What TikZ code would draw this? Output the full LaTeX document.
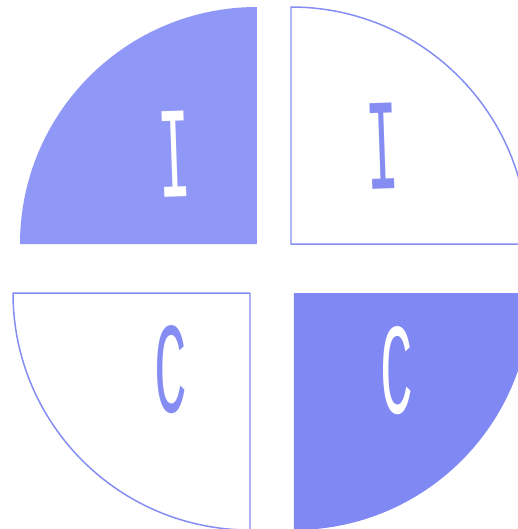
\documentclass[tikz,border=0pt]{standalone}
\usepackage{fontspec}
\newfontfamily\glyphfont{Liberation Mono}
\usetikzlibrary{calc, positioning}

\definecolor{periA}{HTML}{8F97F7}
\definecolor{periB}{HTML}{7F88F3}
\definecolor{periLine}{HTML}{858DF2}

\begin{document}
\begin{tikzpicture}[
    x=0.02cm, y=-0.02cm,
    line join=round,
    line cap=round,
    quadfill/.style={fill=#1, draw=none},
    quadline/.style={draw=periLine, line width=0.85pt, fill=white},
    glyph/.style={text=#1, inner sep=0pt, font=\glyphfont\fontsize{74}{74}\selectfont}
]

  % ==================== PARAMETERS ====================
  \def\r{237}   % radius of every quarter

  \useasboundingbox (0,0) rectangle (518,529);
  \clip (0,0) rectangle (518,529);

  % ==================== 1. TOP LEFT (filled) ====================
  \filldraw[quadfill=periA] (257,244) -- (20,244) arc (180:270:\r) -- cycle;
  \node[glyph=white, rotate=2] (iLeft) at (174,154) {\scalebox{0.42}[1]{I}};

  % ==================== 2. TOP RIGHT (outline) ====================
  \filldraw[quadline] (291,244) -- (291,7) arc (270:360:\r) -- cycle;
  \node[glyph=periLine, rotate=2] (iRight) at (382,146) {\scalebox{0.42}[1]{I}};

  % ==================== 3. BOTTOM LEFT (outline) ====================
  \filldraw[quadline] (250,293) -- (13,293) arc (180:90:\r) -- cycle;
  \node[glyph=periLine] (cLeft) at (171,370) {\scalebox{0.42}[1]{C}};

  % ==================== 4. BOTTOM RIGHT (filled) ====================
  \filldraw[quadfill=periB] (294,293) -- (294,530) arc (90:0:\r) -- cycle;
  \node[glyph=white] (cRight) at (397,371) {\scalebox{0.42}[1]{C}};

\end{tikzpicture}
\end{document}
